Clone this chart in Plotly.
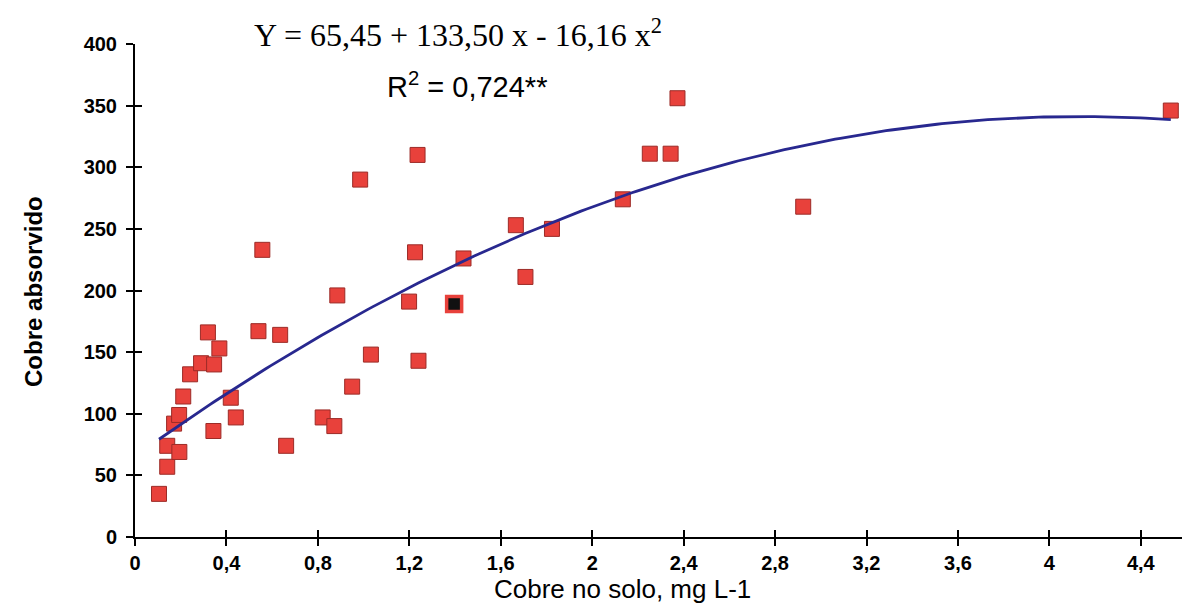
import numpy as np
import plotly.graph_objects as go

# Copper in soil (mg L-1) vs. copper absorbed
cu_solo = [0.105, 0.141, 0.141, 0.194, 0.171, 0.193, 0.211, 0.241, 0.289, 0.346,
           0.319, 0.369, 0.343, 0.419, 0.441, 0.540, 0.557, 0.635, 0.661, 0.821,
           0.872, 0.885, 0.950, 0.985, 1.032, 1.199, 1.225, 1.236, 1.240, 1.437,
           1.666, 1.708, 1.824, 2.134, 2.252, 2.343, 2.373, 2.923, 4.531]
cu_abs = [35, 57, 74, 69, 92, 99, 114, 132, 141, 140,
          166, 153, 86, 113, 97, 167, 233, 164, 74, 97,
          90, 196, 122, 290, 148, 191, 231, 310, 143, 226,
          253, 211, 250, 274, 311, 311, 356, 268, 346]

# highlighted observation (dark centre)
cu_solo_hl = [1.396]
cu_abs_hl = [189]

# quadratic fit coefficients
b0, b1, b2 = 65.45, 133.50, -16.16
fit_x = np.linspace(min(cu_solo), max(cu_solo), 200)
fit_y = b0 + b1 * fit_x + b2 * fit_x ** 2

x_ticks = [0, 0.4, 0.8, 1.2, 1.6, 2, 2.4, 2.8, 3.2, 3.6, 4, 4.4]
x_tick_text = ["0", "0,4", "0,8", "1,2", "1,6", "2", "2,4", "2,8", "3,2", "3,6", "4", "4,4"]
y_ticks = [0, 50, 100, 150, 200, 250, 300, 350, 400]

RED = "#e8413b"
EDGE = "#9c2b27"
BLUE = "#28288f"
SANS = "Liberation Sans, Arial"

fig = go.Figure()
fig.add_trace(go.Scatter(
    x=cu_solo, y=cu_abs, mode="markers",
    marker=dict(symbol="square", size=15, color=RED, line=dict(color=EDGE, width=1)),
    showlegend=False, hoverinfo="x+y"))
fig.add_trace(go.Scatter(
    x=cu_solo_hl, y=cu_abs_hl, mode="markers",
    marker=dict(symbol="square", size=15, color="#111111", line=dict(color=RED, width=3.5)),
    showlegend=False))
fig.add_trace(go.Scatter(
    x=fit_x, y=fit_y, mode="lines",
    line=dict(color=BLUE, width=2.8), showlegend=False, hoverinfo="skip"))
# empty trace carrying the overlay axes used for the inner half of each tick
fig.add_trace(go.Scatter(x=[None], y=[None], xaxis="x2", yaxis="y2",
                         showlegend=False, hoverinfo="skip"))

x_range = [0, 4.58]
y_range = [0, 400]
tick_font = dict(family=SANS, size=20, color="black", weight="bold")

common_x = dict(range=x_range, tickvals=x_ticks, showgrid=False, zeroline=False,
                linecolor="black", linewidth=2, tickcolor="black", tickwidth=2,
                ticklen=7)
common_y = dict(range=y_range, tickvals=y_ticks, showgrid=False, zeroline=False,
                linecolor="black", linewidth=2, tickcolor="black", tickwidth=2,
                ticklen=7)

fig.update_layout(
    width=1182, height=605,
    margin=dict(l=135, r=0, t=44, b=68),
    paper_bgcolor="white", plot_bgcolor="white",
    xaxis=dict(**common_x, ticks="outside", showline=True, ticktext=x_tick_text,
               tickfont=tick_font, ticklabelstandoff=0),
    yaxis=dict(**common_y, ticks="outside", showline=True, tickfont=tick_font,
               ticklabelstandoff=5),
    xaxis2=dict(**common_x, ticks="inside", showline=False, showticklabels=False,
                overlaying="x", anchor="y2"),
    yaxis2=dict(**common_y, ticks="inside", showline=False, showticklabels=False,
                overlaying="y", anchor="x2"),
    annotations=[
        dict(text="Y = 65,45 + 133,50 x - 16,16 x<sup>2</sup>", xref="paper", yref="paper",
             x=0.3085, y=1.022, showarrow=False, xanchor="center", yanchor="middle",
             font=dict(family="Liberation Serif, Times New Roman", size=32, color="black")),
        dict(text="R<sup>2</sup> = 0,724**", xref="paper", yref="paper",
             x=0.317, y=0.917, showarrow=False, xanchor="center", yanchor="middle",
             font=dict(family=SANS, size=29, color="black")),
        dict(text="Cobre no solo, mg L-1", xref="paper", yref="paper",
             x=0.466, y=-0.1055, showarrow=False, xanchor="center", yanchor="middle",
             font=dict(family=SANS, size=26, color="black")),
        dict(text="Cobre absorvido", xref="paper", yref="paper", textangle=-90,
             x=-0.0965, y=0.499, showarrow=False, xanchor="center", yanchor="middle",
             font=dict(family=SANS, size=24, color="black", weight="bold")),
    ],
)

fig.write_html("out.html")
